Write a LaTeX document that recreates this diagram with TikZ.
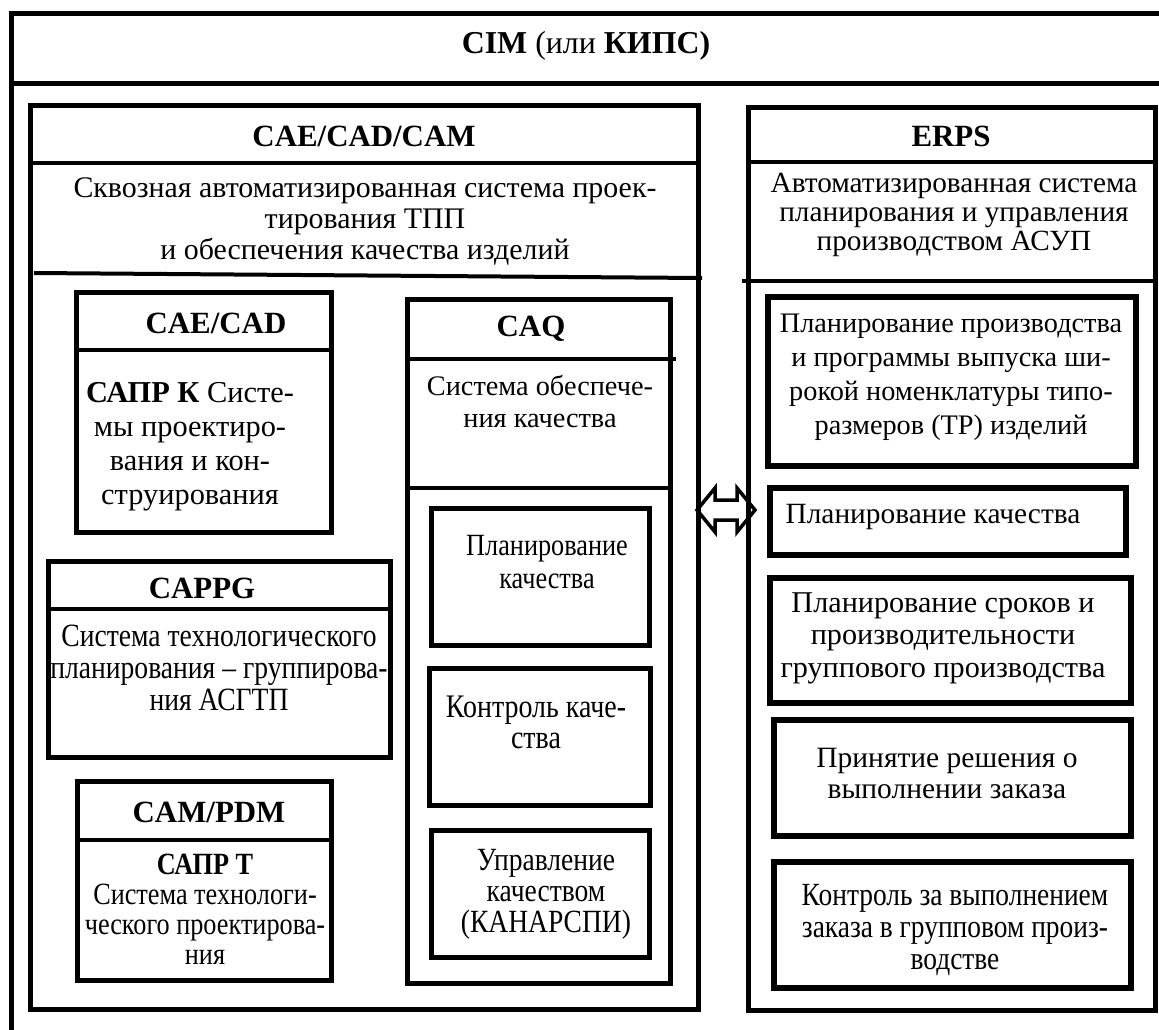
\documentclass[tikz,border=0pt]{standalone}
\usepackage{fontspec}
\setmainfont{Liberation Serif}
\newfontfamily\condf[FakeStretch=0.85]{Liberation Serif}
\usetikzlibrary{fit}
\tikzset{
  bx/.style={draw, line width=5bp, inner sep=0pt},
  bxr/.style={draw, line width=6bp, inner sep=0pt},
  sepl/.style={line width=4bp},
  hd/.style={font=\bfseries\fontsize{31}{36}\selectfont, anchor=base, inner sep=0pt},
  tx/.style 2 args={font=\fontsize{#1}{#2}\selectfont, align=center, anchor=base, inner sep=0pt},
  txc/.style 2 args={font=\condf\fontsize{#1}{#2}\selectfont, align=center, anchor=base, inner sep=0pt},
}
\begin{document}
\begin{tikzpicture}[x=1bp,y=-1bp]
\useasboundingbox (0,0) rectangle (1159,1030);
% outer frame
\coordinate (fTR) at (1159,13.5);
\coordinate (fTL) at (11,13.5);
\coordinate (fBL) at (11,1030);
\draw[line width=5bp] (fTR) -- (fTL) -- (fBL);
\draw[line width=5bp] (11,83) -- (1159,83);
\node[font=\fontsize{32}{36}\selectfont, anchor=base, inner sep=0pt] (title) at (586,53) {\textbf{CIM} (или \textbf{КИПС)}};

% left big box
\node[bx, fit={(30,105) (698,1009)}] (cam) {};
\draw[sepl] (30,163) -- (698,163);
\draw[sepl] (34,273) -- (702,278);
\node[hd] (camh) at (364,146) {CAE/CAD/CAM};
\node[tx={30}{31}] (camt) at (365,259) {Сквозная автоматизированная система проек-\\тирования ТПП\\и обеспечения качества изделий};

% right big box
\node[bx, fit={(748,107) (1155,1010)}] (erp) {};
\draw[sepl] (748,162) -- (1155,162);
\draw[sepl] (742,281) -- (1155,281);
\node[hd] (erph) at (951,146) {ERPS};
\node[tx={29.4}{29}] (erpt) at (954,250.5) {Автоматизированная система\\планирования и управления\\производством АСУП};

% double arrow between the two big boxes
\coordinate (aL) at (697,510);
\coordinate (aR) at (755,510);
\draw[line width=3.5bp, line join=miter] (aL) -- (715,488) -- (715,500) -- (737,500) -- (737,488) -- (aR)
  -- (737,532) -- (737,520) -- (715,520) -- (715,532) -- cycle;

% CAE/CAD
\node[bx, fit={(76,292) (331,532)}] (cad) {};
\draw[sepl] (76,350) -- (331,350);
\node[hd] (cadh) at (216,333) {CAE/CAD};
\node[tx={30.5}{34}] (cadt) at (190,504) {\textbf{САПР К} Систе-\\мы проектиро-\\вания и кон-\\струирования};

% CAPPG
\node[bx, fit={(48,561) (390,757)}] (cap) {};
\draw[sepl] (48,609) -- (390,609);
\node[hd] (caph) at (202,598) {CAPPG};
\node[txc={32.6}{32}] (capt) at (219,710) {Система технологического\\планирования – группирова-\\ния АСГТП};

% CAM/PDM
\node[bx, fit={(77,781) (331,980)}] (pdm) {};
\draw[sepl] (77,840) -- (331,840);
\node[hd] (pdmh) at (209,822) {CAM/PDM};
\node[txc={31}{30}] (pdmt) at (205,964) {\textbf{САПР Т}\\Система технологи-\\ческого проектирова-\\ния};

% CAQ
\node[bx, fit={(407,299) (670,983)}] (caq) {};
\draw[sepl] (407,359) -- (676,359);
\draw[sepl] (407,488) -- (670,488);
\node[hd] (caqh) at (531,336) {CAQ};
\node[tx={28.4}{32}] (caqt) at (540,427) {Система обеспече-\\ния качества};
\node[bx, fit={(431,508) (649,645)}] (q1) {};
\node[txc={31}{33}] (q1t) at (547,588) {Планирование\\качества};
\node[bx, fit={(429,668) (650,805)}] (q2) {};
\node[txc={33}{31}] (q2t) at (536,748) {Контроль каче-\\ства};
\node[bx, fit={(431,830) (649,957)}] (q3) {};
\node[txc={32.5}{31}] (q3t) at (546,932) {Управление\\качеством\\(КАНАРСПИ)};

% ERPS inner boxes
\node[bxr, fit={(768,297) (1136,466)}] (e1) {};
\node[tx={28.4}{34}] (e1t) at (951,434) {Планирование производства\\и программы выпуска ши-\\рокой номенклатуры типо-\\размеров (ТР) изделий};
\node[bxr, fit={(770,488) (1126,555)}] (e2) {};
\node[tx={29.5}{34}] (e2t) at (933,523) {Планирование качества};
\node[bxr, fit={(770,578) (1131,703)}] (e3) {};
\node[tx={30.3}{32.5}] (e3t) at (943,677) {Планирование сроков и\\производительности\\группового производства};
\node[bxr, fit={(774,720) (1131,836)}] (e4) {};
\node[tx={29.6}{31}] (e4t) at (947,798) {Принятие решения о\\выполнении заказа};
\node[bxr, fit={(774,862) (1131,988)}] (e5) {};
\node[txc={32.4}{32}] (e5t) at (955,969) {Контроль за выполнением\\заказа в групповом произ-\\водстве};
\end{tikzpicture}
\end{document}
